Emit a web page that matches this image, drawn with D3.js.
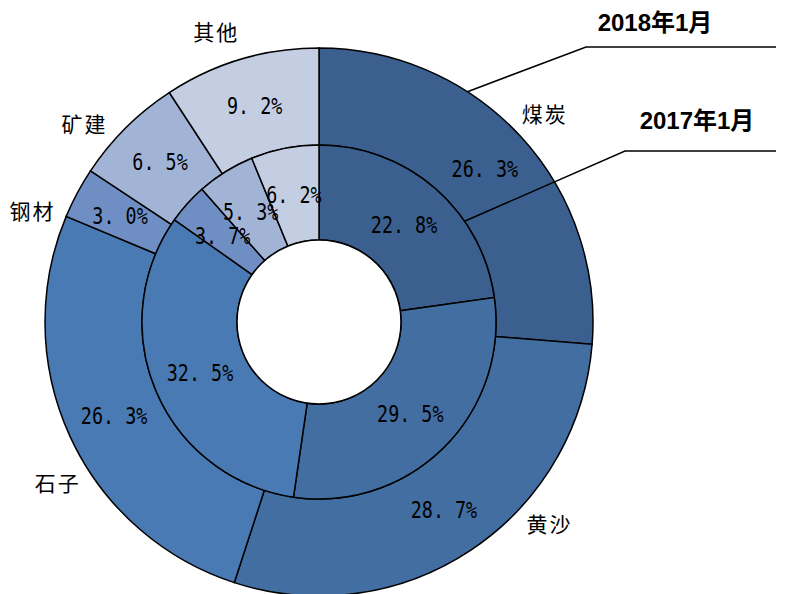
<!DOCTYPE html>
<html>
<head>
<meta charset="utf-8">
<script src="https://cdn.jsdelivr.net/npm/d3@7"></script>
<style>
body { margin: 0; background: #fff; }
</style>
</head>
<body>
<script>
var width = 789;
var height = 594;
var cx = 319, cy = 322;

var categories = ["煤炭", "黄沙", "石子", "钢材", "矿建", "其他"];
var values2018 = [26.3, 28.7, 26.3, 3.0, 6.5, 9.2];
var values2017 = [22.8, 29.5, 32.5, 3.7, 5.3, 6.2];
var seriesNames = ["2018年1月", "2017年1月"];
var colors = ["#3b5f8e", "#426ea2", "#4a7ab4", "#6f8fc4", "#a2b4d6", "#c4cee3"];
// angle tweak (degrees) for the category labels, they were dragged a bit in the original
var labelNudge = [0, -15, -7, -7, -5, -3];

var rHole = 82, rMid = 177, rOuter = 274;

var svg = d3.select("body").append("svg")
  .attr("width", width)
  .attr("height", height);

var g = svg.append("g")
  .attr("transform", "translate(" + cx + "," + cy + ")");

var pie = d3.pie().sort(null).value(function(d) { return d; });

var arcOuter = d3.arc().innerRadius(rMid).outerRadius(rOuter);
var arcInner = d3.arc().innerRadius(rHole).outerRadius(rMid);

function fmt(v) { return v.toFixed(1).replace(".", ". ") + "%"; }

var outerData = pie(values2018);
var innerData = pie(values2017);

g.selectAll("path.outer")
  .data(outerData)
  .enter().append("path")
  .attr("class", "outer")
  .attr("d", arcOuter)
  .style("fill", function(d, i) { return colors[i]; })
  .style("stroke", "#000")
  .style("stroke-width", 1.5);

g.selectAll("path.inner")
  .data(innerData)
  .enter().append("path")
  .attr("class", "inner")
  .attr("d", arcInner)
  .style("fill", function(d, i) { return colors[i]; })
  .style("stroke", "#000")
  .style("stroke-width", 1.5);

g.append("circle")
  .attr("r", rHole)
  .style("fill", "#fff")
  .style("stroke", "#000")
  .style("stroke-width", 1.5);

var pctFont = "'DejaVu Sans Mono', monospace";

// the original digits are tall and narrow, so squeeze a mono font sideways
function pctLabels(cls, data, arc) {
  g.selectAll("text." + cls)
    .data(data)
    .enter().append("text")
    .attr("class", cls)
    .attr("transform", function(d) { return "translate(" + arc.centroid(d) + ") scale(0.8,1)"; })
    .attr("text-anchor", "middle")
    .attr("dy", "0.36em")
    .style("font-family", pctFont)
    .style("font-size", "23px")
    .text(function(d) { return fmt(d.data); });
}
pctLabels("outer", outerData, arcOuter);
pctLabels("inner", innerData, arcInner);

// category names outside the ring
var rLabel = 307;
g.selectAll("text.cat")
  .data(outerData)
  .enter().append("text")
  .attr("class", "cat")
  .attr("x", function(d, i) {
    var a = (d.startAngle + d.endAngle) / 2 + labelNudge[i] * Math.PI / 180;
    return Math.sin(a) * rLabel;
  })
  .attr("y", function(d, i) {
    var a = (d.startAngle + d.endAngle) / 2 + labelNudge[i] * Math.PI / 180;
    return -Math.cos(a) * rLabel;
  })
  .attr("text-anchor", "middle")
  .attr("dy", "0.36em")
  .style("font-family", "'Noto Sans CJK SC', sans-serif")
  .style("font-size", "21px")
  .style("letter-spacing", "2px")
  .text(function(d, i) { return categories[i]; });

// series call-outs
function callout(r, angleDeg, elbow, label, textX, textY) {
  var a = angleDeg * Math.PI / 180;
  var x0 = cx + Math.sin(a) * r, y0 = cy - Math.cos(a) * r;
  svg.append("polyline")
    .attr("points", [[x0, y0], elbow, [776, elbow[1]]].map(function(p) { return p.join(","); }).join(" "))
    .style("fill", "none")
    .style("stroke", "#000")
    .style("stroke-width", 1.5);
  svg.append("text")
    .attr("x", textX)
    .attr("y", textY)
    .attr("text-anchor", "middle")
    .style("font-family", "'Liberation Sans', Arial, 'Noto Sans CJK SC', sans-serif")
    .style("font-weight", "bold")
    .style("font-size", "24px")
    .text(label);
}
callout(rOuter, 32.8, [586, 47], seriesNames[0], 655, 31);
callout(rMid, 55.3, [625, 151], seriesNames[1], 697, 129);
</script>
</body>
</html>
